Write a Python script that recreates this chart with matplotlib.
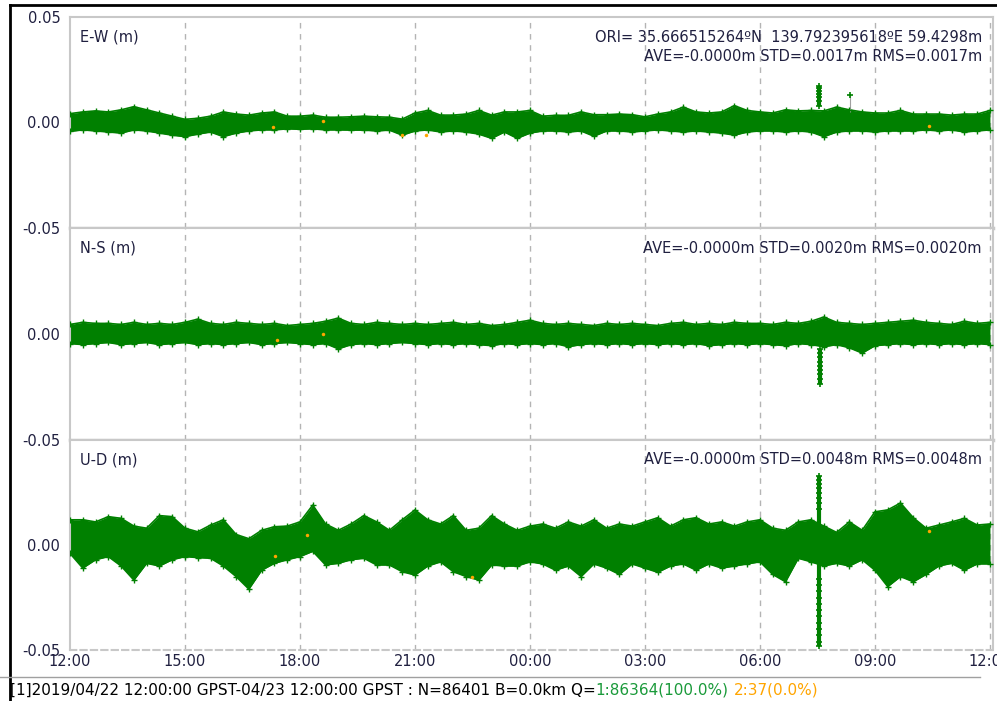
import numpy as np
import matplotlib
matplotlib.use('Agg')
import matplotlib.pyplot as plt
from matplotlib.lines import Line2D

# envelope of the solution scatter, sampled every 20 min from 2019/04/22 12:00 GPST (mm)
ew_hi = [4.2, 5.0, 5.5, 5.0, 6.0, 7.5, 6.0, 4.5, 3.0, 1.5, 2.0, 3.0, 5.0, 4.0, 3.5, 4.5, 5.0, 3.0, 3.0, 3.5,
         2.5, 2.5, 2.7, 3.0, 2.7, 2.5, 1.6, 4.5, 5.7, 3.5, 3.5, 4.0, 5.7, 3.5, 5.0, 5.0, 5.7, 3.0, 3.4, 3.4,
         5.0, 3.7, 3.7, 4.0, 3.7, 2.7, 4.0, 5.0, 7.3, 5.0, 4.5, 5.0, 8.0, 5.7, 5.0, 4.5, 6.0, 5.5, 5.7, 5.5,
         7.3, 6.0, 5.0, 4.5, 4.5, 5.7, 4.0, 4.0, 4.0, 3.5, 4.0, 4.0, 5.7]
ew_lo = [-4.2, -3.5, -4.0, -4.5, -5.0, -3.5, -4.0, -5.0, -6.0, -6.7, -5.5, -4.5, -6.7, -5.0, -4.0, -3.5, -3.5,
         -3.0, -3.2, -3.0, -3.5, -3.5, -3.6, -3.6, -4.0, -3.6, -6.0, -4.0, -3.5, -4.5, -4.0, -4.5, -5.5, -7.5,
         -4.5, -7.5, -5.0, -4.0, -4.0, -4.5, -4.0, -6.5, -4.0, -4.0, -4.5, -4.0, -3.5, -4.0, -4.5, -4.0, -4.5,
         -5.0, -6.0, -4.5, -4.0, -4.0, -4.5, -4.0, -4.5, -6.7, -4.5, -4.0, -4.0, -4.5, -4.0, -4.0, -4.0, -3.5,
         -4.0, -3.5, -4.5, -4.0, -3.5]
ns_hi = [4.5, 5.5, 5.0, 5.0, 4.5, 5.5, 4.5, 5.0, 4.5, 5.5, 7.0, 5.0, 4.5, 5.5, 5.0, 4.5, 5.0, 4.0, 4.5, 5.0,
         6.0, 7.5, 5.0, 4.5, 5.5, 5.0, 4.5, 5.0, 4.5, 5.0, 5.5, 4.5, 5.0, 4.0, 4.5, 5.5, 6.5, 5.0, 4.5, 5.0,
         4.5, 4.0, 5.0, 4.5, 5.0, 4.5, 4.0, 5.0, 5.5, 4.5, 5.0, 4.5, 5.5, 5.0, 5.0, 4.5, 5.5, 5.0, 6.0, 8.0,
         5.5, 5.0, 4.5, 5.0, 5.5, 6.0, 6.5, 5.5, 5.0, 4.5, 6.0, 5.0, 5.5]
ns_lo = [-4.5, -5.0, -4.5, -4.0, -5.0, -4.5, -4.0, -5.0, -4.5, -4.0, -5.0, -4.5, -5.0, -4.5, -4.0, -5.0, -4.5,
         -4.0, -4.5, -5.0, -4.5, -7.0, -5.0, -4.5, -5.0, -4.5, -4.0, -4.5, -5.0, -4.5, -5.0, -4.5, -5.0, -5.5,
         -4.5, -5.0, -4.5, -5.0, -4.5, -6.0, -5.0, -4.5, -5.0, -4.5, -5.0, -4.5, -5.0, -4.5, -5.0, -4.5, -5.5,
         -5.0, -4.5, -5.0, -4.5, -5.0, -5.5, -4.5, -5.0, -6.0, -5.0, -6.5, -9.0, -5.5, -5.0, -4.5, -5.0, -4.5,
         -5.0, -4.5, -5.0, -4.5, -5.0]
ud_hi = [12, 12, 11, 13.5, 12.7, 9, 8, 14, 13.5, 8, 6.3, 9.5, 12, 5, 3, 7, 8.7, 9, 11, 19,
         10, 7, 10, 14, 11, 7, 12, 16.7, 12, 10, 14, 7, 8, 14, 10, 7, 9, 10, 8, 11,
         9, 12, 8, 10, 9, 11, 13, 9, 12, 13, 10, 11, 9, 11, 12, 8, 7, 11, 12, 9,
         6, 11, 7, 15.8, 16.7, 20, 13, 8, 9.5, 11, 12.7, 9.5, 10]
ud_lo = [-4, -11, -7, -5.5, -10, -16.7, -8.7, -10, -7, -5.5, -6, -6.3, -10, -15, -21, -12, -8.7, -7, -5.5, -3,
         -9.5, -8.7, -7, -6.3, -9.5, -9.5, -12.7, -14.3, -10, -8, -12.7, -15, -16.7, -9.5, -10, -10, -8, -9, -12, -10,
         -15, -9, -11, -14, -9, -11, -13, -10, -9, -12, -9, -11, -10, -9, -8, -14, -17.5, -6.3, -8, -10,
         -8.7, -10, -7, -12, -19.8, -15, -17.5, -14, -10, -8.7, -12, -9, -9]

# outlier columns (hour from start, mm)
ew_spike_t = 19.55
ew_spike = [8, 10, 12, 13.5, 15, 16.2, 17.4]
ew_single = (20.35, 12.8)
ns_spike_t = 19.57
ns_spike = [-7, -9, -11, -13, -15, -17, -19, -21, -23.5]
ud_spike_t = 19.55
ud_spike = [33, 31, 29, 27, 25, 22.5, 20, 17, -16, -19, -22, -25, -28, -31, -34, -37, -40, -43, -46, -48]

# Q=2 (float) points: hour, mm
ew_q2 = [(5.3, -1.9), (6.6, 0.6), (8.66, -6.0), (9.3, -6.0), (22.4, -1.5)]
ns_q2 = [(5.4, -3.0), (6.6, 0.0)]
ud_q2 = [(6.18, 4.8), (5.35, -5.0), (10.5, -15.0), (22.4, 6.8)]

tick_hours = [0, 3, 6, 9, 12, 15, 18, 21, 24]
tick_labels = ['12:00', '15:00', '18:00', '21:00', '00:00', '03:00', '06:00', '09:00', '12:00']

GREEN = '#008000'
ORANGE = '#ffa500'
TXT = '#202040'
GRID = '#b4b4b4'

step_h = 20 / 60
t = np.arange(len(ew_hi)) * step_h

W, H = 997, 701
fig = plt.figure(figsize=(W / 100, H / 100), dpi=100)
plt.rcParams['font.family'] = ['DejaVu Sans']

left, right = 70 / W, 993 / W
edges = [17, 228, 440, 650]
axes = []
for k in range(3):
    bottom = 1 - edges[k + 1] / H
    top = 1 - edges[k] / H
    ax = fig.add_axes([left, bottom, right - left, top - bottom])
    axes.append(ax)

panels = [
    ('E-W (m)', ew_hi, ew_lo, ew_spike_t, ew_spike, ew_q2, 'AVE=-0.0000m STD=0.0017m RMS=0.0017m'),
    ('N-S (m)', ns_hi, ns_lo, ns_spike_t, ns_spike, ns_q2, 'AVE=-0.0000m STD=0.0020m RMS=0.0020m'),
    ('U-D (m)', ud_hi, ud_lo, ud_spike_t, ud_spike, ud_q2, 'AVE=-0.0000m STD=0.0048m RMS=0.0048m'),
]

for k, (ax, (name, hi, lo, st, sv, q2, stats)) in enumerate(zip(axes, panels)):
    hi = np.array(hi) / 1000
    lo = np.array(lo) / 1000
    ax.set_xlim(0, 24.08)
    ax.set_ylim(-0.05, 0.05)
    for h in tick_hours[1:-1] + [24]:
        ax.axvline(h, color=GRID, lw=1, ls=(0, (4, 4)), zorder=0)
    ax.fill_between(t, lo, hi, color=GREEN, lw=0, zorder=2)
    ax.plot(t, hi, color=GREEN, lw=1.2, zorder=2)
    ax.plot(t, lo, color=GREEN, lw=1.2, zorder=2)
    ax.plot(t, hi, '+', color=GREEN, ms=4, mew=1, zorder=3)
    ax.plot(t, lo, '+', color=GREEN, ms=4, mew=1, zorder=3)
    sv = np.array(sv) / 1000
    ax.vlines(st, sv.min(), sv.max(), color=GREEN, lw=3, zorder=3)
    ax.plot([st] * len(sv), sv, '+', color=GREEN, ms=5, mew=1.2, zorder=3)
    if k == 0:
        ax.vlines(ew_single[0], 0.005, ew_single[1] / 1000, color='#a0a0a0', lw=0.8, zorder=2)
        ax.plot(ew_single[0], ew_single[1] / 1000, '+', color=GREEN, ms=5, mew=1.2, zorder=3)
    qx = [p[0] for p in q2]
    qy = [p[1] / 1000 for p in q2]
    ax.plot(qx, qy, 'o', color=ORANGE, ms=2.5, mew=0, zorder=4)

    ax.text(10 / 923, 0.905, name, transform=ax.transAxes, fontsize=10.5, color=TXT, va='center', ha='left')
    ax.text(0.988, 0.812 if k == 0 else 0.905, stats, transform=ax.transAxes, fontsize=10.5,
            color=TXT, va='center', ha='right')
    if k == 0:
        ax.text(0.988, 0.905, 'ORI= 35.666515264\u00baN  139.792395618\u00baE 59.4298m',
                transform=ax.transAxes, fontsize=10.5, color=TXT, va='center', ha='right')

    if k == 0:
        ax.set_yticks([0.05, 0.0, -0.05])
        ax.set_yticklabels(['0.05', '0.00', '-0.05'])
    else:
        ax.set_yticks([0.0, -0.05])
        ax.set_yticklabels(['0.00', '-0.05'])
    ax.tick_params(axis='y', length=0, pad=7, labelsize=10.5, labelcolor=TXT)
    ax.set_xticks(tick_hours)
    if k == 2:
        ax.set_xticklabels(tick_labels)
        ax.tick_params(axis='x', length=0, pad=3, labelsize=10.5, labelcolor=TXT)
    else:
        ax.tick_params(axis='x', length=0, labelbottom=False)
    for s in ax.spines.values():
        s.set_color('#c8c8c8')
        s.set_linewidth(1.5)
    if k == 2:
        ax.spines['bottom'].set_linestyle((0, (3, 2)))
    else:
        ax.spines['bottom'].set_linewidth(2.5)

# window frame and status bar
fig.add_artist(Line2D([9.5 / W, 9.5 / W], [0, 1 - 5 / H], color='black', lw=2))
fig.add_artist(Line2D([9.5 / W, 1], [1 - 5 / H, 1 - 5 / H], color='black', lw=2))
fig.add_artist(Line2D([0, 980 / W], [1 - 677 / H, 1 - 677 / H], color='#a0a0a0', lw=1))

fig.canvas.draw()
r = fig.canvas.get_renderer()
parts = [('[1]2019/04/22 12:00:00 GPST-04/23 12:00:00 GPST : N=86401 B=0.0km Q=', 'black', 0),
         ('1:86364(100.0%)', '#1a9a3a', 0),
         ('2:37(0.0%)', ORANGE, 5)]
x = 10 / W
for s, c, gap in parts:
    x += gap / W
    tx = fig.text(x, 1 - 690 / H, s, color=c, fontsize=11, va='center', ha='left')
    bb = tx.get_window_extent(r)
    x = bb.x1 / fig.bbox.width

fig.savefig('out.png', dpi=100)
